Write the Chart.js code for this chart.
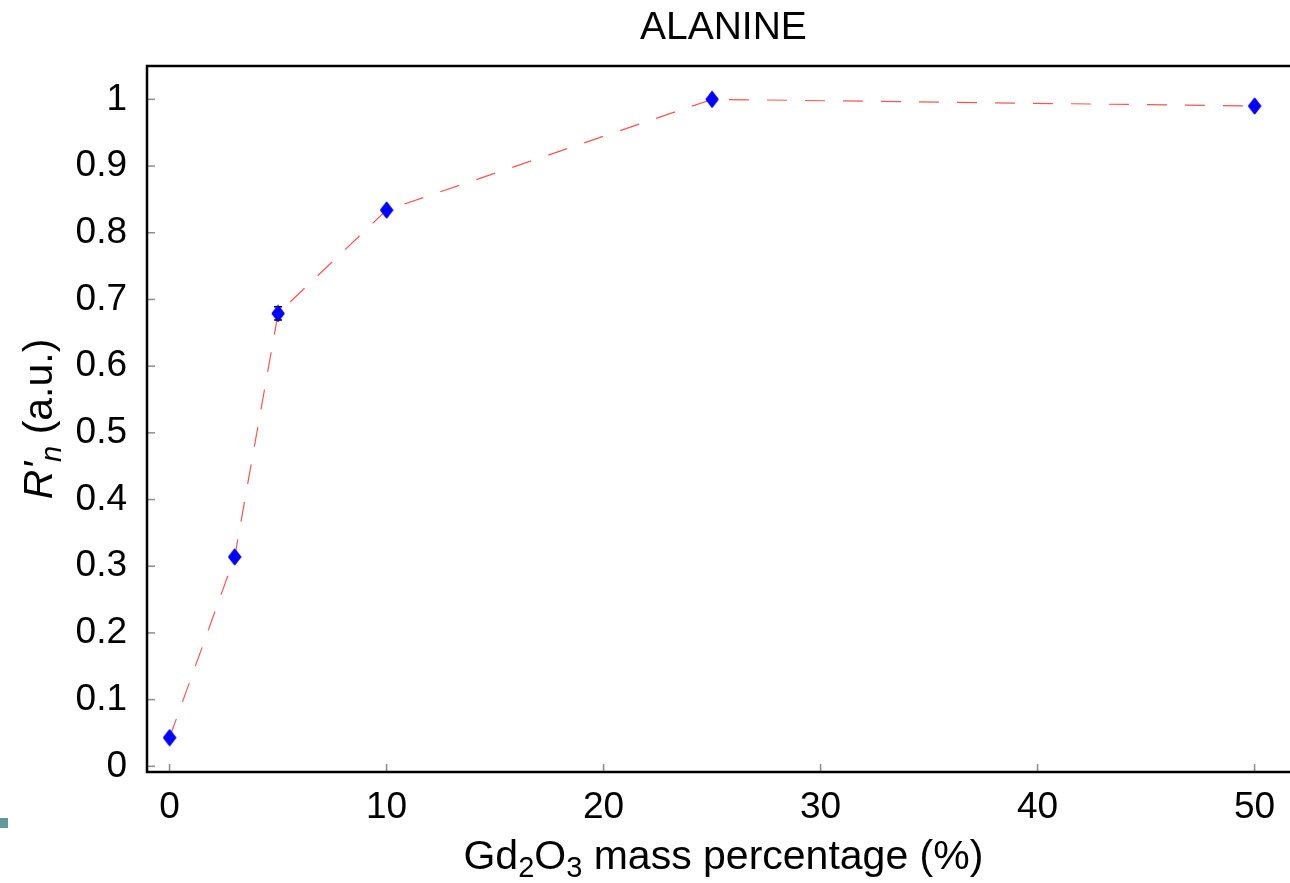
<!DOCTYPE html>
<html>
<head>
<meta charset="utf-8">
<script src="https://cdn.jsdelivr.net/npm/chart.js@4"></script>
<style>
  html, body { margin: 0; padding: 0; background: #fff; overflow: hidden; }
  #wrap { width: 1305px; height: 883px; }
</style>
</head>
<body>
<div id="wrap"><canvas id="MyChart"></canvas></div>
<script>
// Gd2O3 mass percentage (%)
const massPct = [0, 3, 5, 10, 25, 50];
// normalised response R'n (a.u.)
const response = [0.043, 0.314, 0.679, 0.834, 1.0, 0.990];
// error bars (half height)
const errors = [0, 0, 0.01, 0, 0, 0];
const xTicks = [0, 10, 20, 30, 40, 50];
const yTicks = [0, 0.1, 0.2, 0.3, 0.4, 0.5, 0.6, 0.7, 0.8, 0.9, 1];

const FONT = "'Liberation Sans', Arial, sans-serif";

// tall blue diamond marker
const diamond = document.createElement('canvas');
diamond.width = 14; diamond.height = 18;
(() => {
  const c = diamond.getContext('2d');
  c.fillStyle = '#0000ff';
  c.beginPath();
  c.moveTo(7, 0.5); c.lineTo(13.5, 9); c.lineTo(7, 17.5); c.lineTo(0.5, 9);
  c.closePath(); c.fill();
})();

// frame, inward ticks, titles, error bars
const decor = {
  id: 'decor',
  afterDatasetsDraw(chart) {
    const { ctx, chartArea: a, scales: { x, y } } = chart;
    ctx.save();
    // inward tick marks
    ctx.strokeStyle = '#8c8c8c';
    ctx.lineWidth = 1.5;
    xTicks.forEach(v => {
      const px = x.getPixelForValue(v);
      ctx.beginPath(); ctx.moveTo(px, a.bottom); ctx.lineTo(px, a.bottom - 8); ctx.stroke();
    });
    yTicks.forEach(v => {
      const py = y.getPixelForValue(v);
      ctx.beginPath(); ctx.moveTo(a.left, py); ctx.lineTo(a.left + 8, py); ctx.stroke();
    });
    // error bars
    ctx.strokeStyle = '#000';
    ctx.lineWidth = 1.5;
    massPct.forEach((m, i) => {
      if (!errors[i]) return;
      const px = x.getPixelForValue(m);
      const y1 = y.getPixelForValue(response[i] - errors[i]);
      const y2 = y.getPixelForValue(response[i] + errors[i]);
      ctx.beginPath();
      ctx.moveTo(px, y1); ctx.lineTo(px, y2);
      ctx.moveTo(px - 4, y1); ctx.lineTo(px + 4, y1);
      ctx.moveTo(px - 4, y2); ctx.lineTo(px + 4, y2);
      ctx.stroke();
    });
    // redraw markers above error bars
    const meta = chart.getDatasetMeta(0);
    meta.data.forEach(p => p.draw(ctx, a));
    // frame (top + left + bottom)
    ctx.strokeStyle = '#000';
    ctx.lineWidth = 2.5;
    ctx.beginPath();
    ctx.moveTo(a.right + 20, a.top); ctx.lineTo(a.left, a.top);
    ctx.lineTo(a.left, a.bottom); ctx.lineTo(a.right + 20, a.bottom);
    ctx.stroke();

    ctx.fillStyle = '#000';
    ctx.textBaseline = 'alphabetic';
    const cx = (a.left + a.right) / 2 + 2;
    // title
    ctx.font = `39px ${FONT}`;
    ctx.textAlign = 'center';
    ctx.fillText('ALANINE', cx, 39);

    // x-axis title with subscripts
    const runs = [
      ['Gd', 0], ['2', 1], ['O', 0], ['3', 1], [' mass percentage (%)', 0]
    ];
    const big = `41px ${FONT}`, small = `29px ${FONT}`;
    let total = 0;
    runs.forEach(([t, s]) => { ctx.font = s ? small : big; total += ctx.measureText(t).width; });
    let xx = cx - total / 2;
    ctx.textAlign = 'left';
    runs.forEach(([t, s]) => {
      ctx.font = s ? small : big;
      ctx.fillText(t, xx, s ? 877 : 869);
      xx += ctx.measureText(t).width;
    });

    // y-axis title rotated: R'_n (a.u.)
    ctx.translate(52, (a.top + a.bottom) / 2);
    ctx.rotate(-Math.PI / 2);
    const yruns = [
      ["R'", `italic 41px ${FONT}`, 0],
      ['n', `italic 29px ${FONT}`, 9],
      [' (a.u.)', `41px ${FONT}`, 0]
    ];
    let tot = 0;
    yruns.forEach(([t, f]) => { ctx.font = f; tot += ctx.measureText(t).width; });
    let yy = -tot / 2;
    yruns.forEach(([t, f, d]) => {
      ctx.font = f;
      ctx.fillText(t, yy, d);
      yy += ctx.measureText(t).width;
    });
    ctx.restore();

    // stray teal mark at the lower left edge
    ctx.save();
    ctx.fillStyle = '#5e9a9a';
    ctx.fillRect(0, 818, 8, 10);
    ctx.restore();
  }
};

const data = {
  datasets: [{
    label: 'ALANINE',
    data: massPct.map((m, i) => ({ x: m, y: response[i] })),
    borderColor: 'rgba(255, 40, 40, 0.8)',
    borderWidth: 1.2,
    borderDash: [20, 18],
    pointStyle: diamond,
    pointRadius: 8,
    tension: 0,
  }]
};

const config = {
  type: 'scatter',
  data: data,
  options: {
    responsive: true,
    maintainAspectRatio: false,
    animation: false,
    showLine: true,
    layout: { padding: { top: 66, right: 0, left: 0, bottom: 0 } },
    plugins: {
      legend: { display: false },
      tooltip: { enabled: false },
      title: { display: false },
    },
    scales: {
      x: {
        type: 'linear',
        min: -1.04,
        max: 51.9,
        afterBuildTicks: s => { s.ticks = xTicks.map(v => ({ value: v })); },
        afterFit: s => { s.height = 111; },
        grid: { display: false, drawTicks: false },
        border: { display: false },
        ticks: {
          color: '#000',
          padding: 14,
          font: { family: FONT, size: 37 },
        },
      },
      y: {
        min: -0.0085,
        max: 1.05,
        afterBuildTicks: s => { s.ticks = yTicks.map(v => ({ value: v })); },
        afterFit: s => { s.width = 147; },
        grid: { display: false, drawTicks: false },
        border: { display: false },
        ticks: {
          color: '#000',
          padding: 20,
          font: { family: FONT, size: 37 },
          callback: v => String(Math.round(v * 10) / 10),
        },
      },
    },
  },
  plugins: [decor],
};

const myChart = new Chart(document.getElementById('MyChart'), config);
</script>
</body>
</html>
